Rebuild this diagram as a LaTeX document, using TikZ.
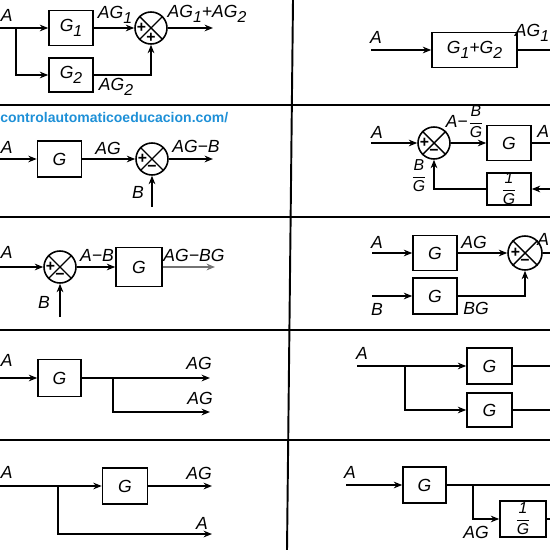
\documentclass[tikz,border=0pt]{standalone}
\usepackage{fontspec}
\setmainfont{Liberation Sans}
\usetikzlibrary{arrows.meta}
\definecolor{urlblue}{RGB}{30,144,215}
\newcommand{\lowidx}[1]{\raisebox{-0.5ex}{\small #1}}
\newcommand{\myfrac}[2]{$\displaystyle{\hbox{\itshape #1}\over\hbox{\itshape #2}}$}
\newcommand{\sumx}[3]{%
  \draw[line width=0.8pt] (#1.north west) -- (#1.south east) (#1.north east) -- (#1.south west);
  \node[sgn] at ([xshift=-0.19cm]#1.center) {#2};
  \node[sgn] at ([yshift=-0.19cm]#1.center) {#3};}
\begin{document}
\begin{tikzpicture}[x=0.02cm, y=-0.02cm,
  font=\fontsize{10}{12}\selectfont\itshape,
  sig/.style={line width=1.1pt},
  flow/.style={sig, -{Stealth[length=4.8pt,width=3.8pt]}},
  blk/.style={draw, line width=0.9pt, minimum width=0.88cm, minimum height=0.72cm, inner sep=0pt},
  sumj/.style={draw, circle, line width=0.9pt, minimum size=0.64cm, inner sep=0pt},
  lbl/.style={inner sep=0pt},
  edgel/.style={inner sep=0pt, anchor=west},
  edger/.style={inner sep=0pt, anchor=east},
  sgn/.style={inner sep=0pt, font=\fontsize{9}{9}\selectfont\upshape\bfseries},
  sep/.style={line width=1.1pt}]
\useasboundingbox (0,0) rectangle (550,550);
% separators
\draw[sep] (0,105) -- (550,105);
\draw[sep] (0,217) -- (550,217);
\draw[sep] (0,330) -- (550,330);
\draw[sep] (0,440) -- (550,440);
\draw[sep] (293,0) -- (287,550);

% ---------- Row 1 left
\node[edgel] (r1A) at (0.5,15) {A};
\coordinate (r1in) at (0,28);
\coordinate (r1br) at (16,28);
\node[blk, minimum height=0.70cm] (r1g1) at (71,28) {G\lowidx{1}};
\node[blk, minimum height=0.68cm] (r1g2) at (71,75) {G\lowidx{2}};
\node[sumj] (r1s) at (151,28) {};
\sumx{r1s}{+}{+}
\coordinate (r1out) at (213,28);
\draw[flow] (r1in) -- (r1g1);
\draw[flow] (r1br) |- (r1g2);
\draw[flow] (r1g1) -- (r1s);
\draw[flow] (r1g2) -| (r1s);
\draw[flow] (r1s) -- (r1out);
\node[lbl] (r1l1) at (115,15) {AG\lowidx{1}};
\node[lbl] (r1l2) at (207,14) {AG\lowidx{1}+AG\lowidx{2}};
\node[lbl] (r1l3) at (116,87) {AG\lowidx{2}};

% ---------- Row 1 right
\node[lbl] (r1rA) at (376,37) {A};
\coordinate (r1rin) at (371,50);
\node[blk, minimum width=1.70cm, minimum height=0.70cm] (r1rg) at (474.5,50) {G\lowidx{1}+G\lowidx{2}};
\coordinate (r1rout) at (550,50);
\draw[flow] (r1rin) -- (r1rg);
\draw[sig] (r1rg) -- (r1rout);
\node[edger] (r1rl) at (549.5,33) {AG\lowidx{1}};

% ---------- Row 2 left
\node[anchor=west, inner sep=0pt, text=urlblue] (url) at (0,118)
  {\resizebox{4.56cm}{!}{\bfseries\upshape controlautomaticoeducacion.com/}};
\node[edgel] (r2A) at (0.5,147) {A};
\coordinate (r2in) at (0,159);
\node[blk] (r2g) at (59.5,159) {G};
\node[sumj] (r2s) at (152,159) {};
\sumx{r2s}{+}{−}
\coordinate (r2out) at (213,159);
\coordinate (r2b) at (152,207);
\draw[flow] (r2in) -- (r2g);
\draw[flow] (r2g) -- (r2s);
\draw[flow] (r2s) -- (r2out);
\draw[flow] (r2b) -- (r2s);
\node[lbl] (r2l1) at (108,148) {AG};
\node[lbl] (r2l2) at (196,146) {AG−B};
\node[lbl] (r2l3) at (138,192) {B};

% ---------- Row 2 right
\node[lbl] (r2rA) at (377,132) {A};
\coordinate (r2rin) at (371,143);
\node[sumj] (r2rs) at (434,143) {};
\sumx{r2rs}{+}{−}
\node[blk, minimum height=0.70cm] (r2rg) at (509,143) {G};
\coordinate (r2rout) at (550,143);
\node[blk, minimum height=0.64cm] (r2rh) at (509,189) {\fontsize{9}{9}\selectfont\myfrac{1}{G}};
\coordinate (r2rfb) at (550,189);
\draw[flow] (r2rin) -- (r2rs);
\draw[flow] (r2rs) -- (r2rg);
\draw[sig] (r2rg) -- (r2rout);
\draw[flow] (r2rfb) -- (r2rh);
\draw[flow] (r2rh) -| (r2rs);
\node[lbl] (r2rl1) at (465,122) {A−\fontsize{9}{9}\selectfont\myfrac{B}{G}};
\node[lbl] (r2rl2) at (419,176) {\fontsize{9}{9}\selectfont\myfrac{B}{G}};
\node[edger] (r2rl3) at (549.5,131) {A};

% ---------- Row 3 left
\node[edgel] (r3A) at (0.5,252) {A};
\coordinate (r3in) at (0,267);
\node[sumj] (r3s) at (60,267) {};
\sumx{r3s}{+}{−}
\node[blk, minimum width=0.92cm, minimum height=0.78cm] (r3g) at (139,267) {G};
\coordinate (r3out) at (215,267);
\coordinate (r3b) at (60,317);
\draw[flow] (r3in) -- (r3s);
\draw[flow] (r3s) -- (r3g);
\draw[flow, black!55] (r3g) -- (r3out);
\draw[flow] (r3b) -- (r3s);
\node[lbl] (r3l1) at (97,255) {A−B};
\node[lbl] (r3l2) at (194,255) {AG−BG};
\node[lbl] (r3l3) at (44,302) {B};

% ---------- Row 3 right
\node[lbl] (r3rA) at (377,242) {A};
\node[lbl] (r3rB) at (377,309) {B};
\coordinate (r3rinA) at (372,253);
\coordinate (r3rinB) at (372,296);
\node[blk, minimum height=0.70cm] (r3rg1) at (435,253) {G};
\node[blk, minimum height=0.72cm] (r3rg2) at (435,296) {G};
\node[sumj, minimum size=0.68cm] (r3rs) at (525,253) {};
\sumx{r3rs}{+}{−}
\coordinate (r3rout) at (550,253);
\draw[flow] (r3rinA) -- (r3rg1);
\draw[flow] (r3rinB) -- (r3rg2);
\draw[flow] (r3rg1) -- (r3rs);
\draw[flow] (r3rg2) -| (r3rs);
\draw[sig] (r3rs) -- (r3rout);
\node[lbl] (r3rl1) at (474,242) {AG};
\node[lbl] (r3rl2) at (476,308) {BG};
\node[edger] (r3rl3) at (549.5,239) {A};

% ---------- Row 4 left
\node[edgel] (r4A) at (0.5,360) {A};
\coordinate (r4in) at (0,378);
\node[blk, minimum width=0.86cm, minimum height=0.74cm] (r4g) at (59.5,378) {G};
\coordinate (r4br) at (113,378);
\coordinate (r4out1) at (210,378);
\coordinate (r4out2) at (210,412);
\draw[flow] (r4in) -- (r4g);
\draw[flow] (r4g) -- (r4out1);
\draw[flow] (r4br) |- (r4out2);
\node[lbl] (r4l1) at (199,363) {AG};
\node[lbl] (r4l2) at (200,398) {AG};

% ---------- Row 4 right
\node[lbl] (r4rA) at (362,353) {A};
\coordinate (r4rin) at (357,366);
\coordinate (r4rbr) at (405,366);
\node[blk, minimum width=0.90cm, minimum height=0.72cm] (r4rg1) at (489.5,366) {G};
\node[blk, minimum width=0.90cm, minimum height=0.68cm] (r4rg2) at (489.5,410) {G};
\coordinate (r4rout1) at (550,366);
\coordinate (r4rout2) at (550,410);
\draw[flow] (r4rin) -- (r4rg1);
\draw[flow] (r4rbr) |- (r4rg2);
\draw[sig] (r4rg1) -- (r4rout1);
\draw[sig] (r4rg2) -- (r4rout2);

% ---------- Row 5 left
\node[edgel] (r5A) at (0.5,472) {A};
\coordinate (r5in) at (0,486);
\coordinate (r5br) at (58,486);
\node[blk, minimum width=0.90cm, minimum height=0.72cm] (r5g) at (125,486) {G};
\coordinate (r5out1) at (212,486);
\coordinate (r5out2) at (212,534);
\draw[flow] (r5in) -- (r5g);
\draw[flow] (r5g) -- (r5out1);
\draw[flow] (r5br) |- (r5out2);
\node[lbl] (r5l1) at (199,473) {AG};
\node[lbl] (r5l2) at (202,523) {A};

% ---------- Row 5 right
\node[lbl] (r5rA) at (350,472) {A};
\coordinate (r5rin) at (346,485);
\node[blk, minimum width=0.86cm, minimum height=0.72cm] (r5rg) at (424.5,485) {G};
\coordinate (r5rbr) at (473,485);
\coordinate (r5rout1) at (550,485);
\node[blk, minimum width=0.92cm, minimum height=0.72cm] (r5rh) at (523,519) {\fontsize{9}{9}\selectfont\myfrac{1}{G}};
\coordinate (r5rout2) at (550,519);
\draw[flow] (r5rin) -- (r5rg);
\draw[sig] (r5rg) -- (r5rout1);
\draw[flow] (r5rbr) |- (r5rh);
\draw[sig] (r5rh) -- (r5rout2);
\node[lbl] (r5rl) at (476,532) {AG};
\end{tikzpicture}
\end{document}
